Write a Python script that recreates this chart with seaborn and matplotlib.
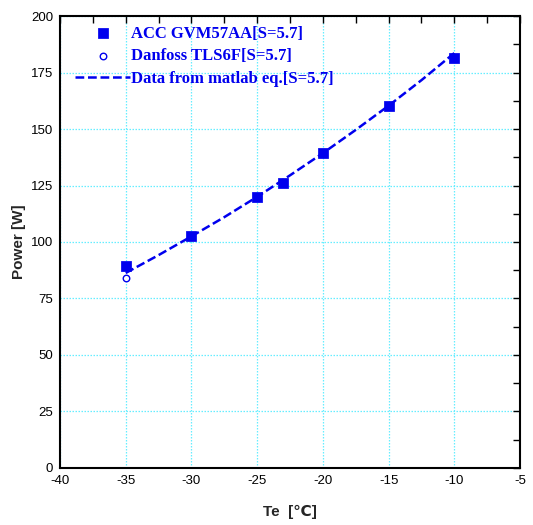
import matplotlib
matplotlib.use("Agg")
import matplotlib.pyplot as plt
import seaborn as sns
import pandas as pd
from matplotlib.ticker import MultipleLocator

acc_te = [-35, -30, -25, -23, -20, -15, -10]
acc_power = [89.5, 102.8, 119.9, 126.2, 139.4, 160.1, 181.3]
danfoss_te = [-35]
danfoss_power = [84.2]
eq_te = [-35, -32.5, -30, -27.5, -25, -22.5, -20, -17.5, -15, -12.5, -10]
eq_power = [86.3, 94.2, 102.5, 111.0, 120.0, 129.5, 139.3, 149.6, 160.3, 171.6, 183.6]

sns.set_style("white")
plt.rcParams['font.family'] = ['Liberation Sans', 'DejaVu Sans']
plt.rcParams['axes.unicode_minus'] = False

fig = plt.figure(figsize=(5.33, 5.25), dpi=100)
ax = fig.add_axes([0.1126, 0.1086, 0.8630, 0.8609])

df_acc = pd.DataFrame({"Te": acc_te, "P": acc_power})
df_dan = pd.DataFrame({"Te": danfoss_te, "P": danfoss_power})
df_eq = pd.DataFrame({"Te": eq_te, "P": eq_power})

sns.lineplot(data=df_eq, x="Te", y="P", ax=ax, color="#0000ee", linestyle=(0, (3.5, 1.5)),
             linewidth=1.8, label="Data from matlab eq.[S=5.7]", zorder=3)
sns.scatterplot(data=df_acc, x="Te", y="P", ax=ax, marker="s", s=45, color="#0000ee",
                edgecolor="#0000ee", label="ACC GVM57AA[S=5.7]", zorder=4)
sns.scatterplot(data=df_dan, x="Te", y="P", ax=ax, marker="o", s=22, facecolor="white",
                edgecolor="#0000ee", linewidth=1, label="Danfoss TLS6F[S=5.7]", zorder=4)

ax.set_xlim(-40, -5)
ax.set_ylim(0, 200)
ax.xaxis.set_major_locator(MultipleLocator(5))
ax.xaxis.set_minor_locator(MultipleLocator(2.5))
ax.yaxis.set_major_locator(MultipleLocator(25))
ax.yaxis.set_minor_locator(MultipleLocator(12.5))
ax.grid(True, which="major", color="#66eeff", linestyle=(0, (1.2, 1.2)), linewidth=0.9)
ax.set_axisbelow(True)
ax.tick_params(which="both", direction="in", top=True, right=True, labelsize=9.5,
               colors="black", pad=5)
ax.tick_params(which="major", length=5, width=1)
ax.tick_params(which="minor", length=5, width=1)
for s in ax.spines.values():
    s.set_linewidth(1.5)
    s.set_color("black")
ax.set_xlabel("Te  [\u2103]", fontsize=11, fontweight="bold")
ax.set_ylabel("Power [W]", fontsize=11, fontweight="bold")
ax.xaxis.set_label_coords(0.5, -0.082)
ax.yaxis.set_label_coords(-0.075, 0.5)

handles, labels = ax.get_legend_handles_labels()
order = [labels.index("ACC GVM57AA[S=5.7]"), labels.index("Danfoss TLS6F[S=5.7]"),
         labels.index("Data from matlab eq.[S=5.7]")]
leg = ax.legend([handles[i] for i in order], [labels[i] for i in order], loc="upper left",
                frameon=False, prop={"family": "Liberation Serif", "weight": "bold", "size": 12},
                handlelength=3.3, handletextpad=0.05, labelspacing=0.4,
                bbox_to_anchor=(0.0, 1.012))
for t in leg.get_texts():
    t.set_color("#0000ee")

fig.savefig("out.png", dpi=100)
